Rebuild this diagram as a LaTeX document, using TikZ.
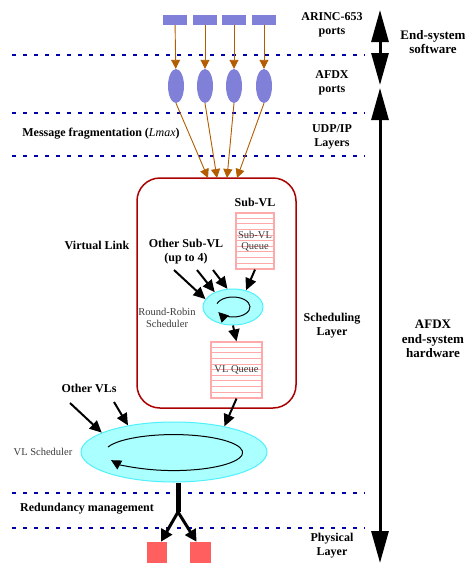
\documentclass[tikz,border=0pt]{standalone}
\usepackage{fontspec}
\setmainfont{Liberation Serif}
\usetikzlibrary{arrows.meta,shapes.geometric}
\definecolor{portblue}{RGB}{128,128,216}
\definecolor{fragorange}{RGB}{179,92,0}
\definecolor{layerblue}{RGB}{0,0,170}
\definecolor{boxred}{RGB}{170,0,0}
\definecolor{queuepink}{RGB}{255,170,170}
\definecolor{schedfill}{RGB}{170,255,255}
\definecolor{schededge}{RGB}{80,240,250}
\definecolor{phyred}{RGB}{255,95,95}
\definecolor{softgray}{RGB}{60,60,60}
\begin{document}
\begin{tikzpicture}[x=1pt, y=1pt,
    port/.style = {fill=portblue, minimum width=24pt, minimum height=10pt, inner sep=0pt},
    afdx/.style = {ellipse, fill=portblue, minimum width=16pt, minimum height=34pt, inner sep=0pt},
    frag/.style = {fragorange, line width=0.9pt, -{Triangle[length=9pt,width=9pt]}},
    layer/.style = {layerblue, line width=2.4pt, dash pattern=on 4pt off 7pt},
    queue/.style = {draw=queuepink, line width=1.2pt, inner sep=0pt, text=softgray, font=\fontsize{10.5}{11}\selectfont, align=center},
    sched/.style = {ellipse, draw=schededge, fill=schedfill, line width=1pt, inner sep=0pt},
    blk/.style = {line width=2pt, -{Triangle[length=12pt,width=11pt]}},
    big/.style = {line width=3pt, {Triangle[length=32pt,width=17pt]}-{Triangle[length=32pt,width=17pt]}},
    lab/.style = {font=\bfseries\fontsize{12}{14}\selectfont, align=center},
    side/.style = {font=\bfseries\fontsize{13}{14.5}\selectfont, align=center},
    note/.style = {text=softgray, font=\fontsize{10.5}{12.5}\selectfont, align=center}]

    \useasboundingbox (0,0) rectangle (468,-563);

    % layers
    \draw[layer] (12,-55) -- (365,-55);
    \draw[layer] (12,-113) -- (365,-113);
    \draw[layer] (12,-156) -- (365,-156);
    \draw[layer] (12,-493) -- (365,-493);
    \draw[layer] (12,-528) -- (365,-528);

    \node[port] (p1) at (175,-20) {};
    \node[port] (p2) at (205,-20) {};
    \node[port] (p3) at (234,-20) {};
    \node[port] (p4) at (264,-20) {};

    \node[afdx] (a1) at (176,-86) {};
    \node[afdx] (a2) at (205,-86) {};
    \node[afdx] (a3) at (234,-86) {};
    \node[afdx] (a4) at (264,-86) {};

    \draw[frag] (p1) -- (a1);
    \draw[frag] (p2) -- (a2);
    \draw[frag] (p3) -- (a3);
    \draw[frag] (p4) -- (a4);

    % virtual link
    \node[draw=boxred, line width=1.5pt, rounded corners=23pt, minimum width=159pt, minimum height=230pt] (vl) at (216.5,-293) {};

    \coordinate (t1) at (208,-178);
    \coordinate (t2) at (217,-178);
    \coordinate (t3) at (227,-178);
    \coordinate (t4) at (237,-178);
    \draw[frag] (a1.south) -- (t1);
    \draw[frag] (a2.south) -- (t2);
    \draw[frag] (a3.south) -- (t3);
    \draw[frag] (a4.south) -- (t4);

    \node[queue, minimum width=38pt, minimum height=56pt] (sq) at (255,-241) {};
    \foreach \i in {1,...,9}
        \draw[queuepink, line width=0.6pt] ([yshift=-5.6*\i pt]sq.north west) -- ([yshift=-5.6*\i pt]sq.north east);
    \node[queue, draw=none] (sqt) at (sq) {Sub-VL\\Queue};

    \node[queue, minimum width=51pt, minimum height=56pt] (vlq) at (236.5,-370) {};
    \foreach \i in {1,...,9}
        \draw[queuepink, line width=0.6pt] ([yshift=-5.6*\i pt]vlq.north west) -- ([yshift=-5.6*\i pt]vlq.north east);
    \node[queue, draw=none] (vlqt) at (vlq) {VL Queue};

    \node[sched, minimum width=60pt, minimum height=36pt] (rr) at (233,-307) {};
    \draw[line width=1pt, -{Triangle[length=10pt,width=10pt]}] ([shift={(160:17 and 10)}]rr.center) arc[start angle=160, end angle=-150, x radius=17, y radius=10];

    \node[sched, minimum width=186pt, minimum height=60pt] (vls) at (174,-452) {};
    \draw[line width=1pt, -{Triangle[length=10pt,width=10pt]}] (108,-447) arc[start angle=162, end angle=-155, x radius=69, y radius=18];

    \coordinate (os1) at (174,-270);
    \coordinate (os2) at (197,-270);
    \coordinate (os3) at (213,-270);
    \draw[blk] (os1) -- (rr.164);
    \draw[blk] (os2) -- (rr.141);
    \draw[blk] (os3) -- (rr.107);
    \draw[blk] (sq.south) -- (rr.52);
    \draw[blk] (rr.south) -- (vlq.north);
    \draw[blk] (vlq.south) -- (vls.27);

    \coordinate (ov1) at (70,-403);
    \coordinate (ov2) at (114,-402);
    \draw[blk] (ov1) -- (vls.165);
    \draw[blk] (ov2) -- (vls.150);

    % redundancy
    \node[fill=phyred, minimum width=20pt, minimum height=21pt, inner sep=0pt] (r1) at (157,-552.5) {};
    \node[fill=phyred, minimum width=21pt, minimum height=21pt, inner sep=0pt] (r2) at (200.5,-552.5) {};
    \coordinate (fork) at (178,-512);
    \draw[line width=5pt] (vls.south -| fork) -- (fork);
    \draw[line width=3pt, -{Triangle[length=12pt,width=12pt]}] (fork) -- (r1.70);
    \draw[line width=3pt, -{Triangle[length=12pt,width=12pt]}] (fork) -- (r2.110);

    \coordinate (s1) at (380,-10);
    \coordinate (s2) at (380,-85);
    \coordinate (h1) at (380,-88);
    \coordinate (h2) at (380,-563);
    \draw[big] (s1) -- (s2);
    \draw[big] (h1) -- (h2);

    \node[lab] (larinc) at (332,-25) {ARINC-653\\ports};
    \node[lab] (lafdx) at (332,-83) {AFDX\\ports};
    \node[lab] (ludp) at (332,-137) {UDP/IP\\Layers};
    \node[lab] (lfrag) at (101,-134) {Message fragmentation (\textit{\mdseries Lmax})};
    \node[lab] (lsub) at (255,-202) {Sub-VL};
    \node[lab] (lvl) at (97,-245) {Virtual Link};
    \node[lab] (lother) at (186,-252) {Other Sub-VL\\(up to 4)};
    \node[note] (lrr) at (167,-318) {Round-Robin\\Scheduler};
    \node[lab] (lsch) at (332,-326) {Scheduling\\Layer};
    \node[lab] (lovl) at (89,-388) {Other VLs};
    \node[note] (lvls) at (43,-452) {VL Scheduler};
    \node[lab] (lred) at (87,-509) {Redundancy management};
    \node[lab] (lphy) at (332,-546) {Physical\\Layer};
    \node[side] (lsoft) at (433,-42) {End-system\\software};
    \node[side] (lhard) at (433,-339) {AFDX\\end-system\\hardware};

\end{tikzpicture}
\end{document}
